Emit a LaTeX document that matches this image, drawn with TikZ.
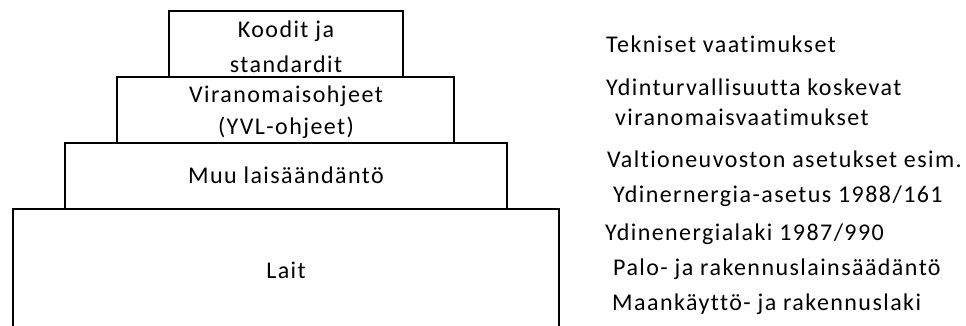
\documentclass[tikz,border=0pt]{standalone}
\usepackage{fontspec}
\setmainfont{Carlito}[LetterSpace=6,Ligatures={NoCommon}]
\begin{document}
\begin{tikzpicture}[x=1pt,y=-1pt,
  tier/.style={draw=black,line width=2.2pt},
  boxtext/.style={anchor=base,inner sep=0pt,font=\fontsize{24}{28}\selectfont},
  sidetext/.style={anchor=base west,inner sep=0pt,font=\fontsize{24}{28}\selectfont}]
\useasboundingbox (0,0) rectangle (966,326);
% tiers of the pyramid, widest at the bottom (its lower edge runs off the page)
\draw[tier] (13,340) |- (559,209) -- (559,340);
\draw[tier] (65,209) |- (507,143) -- (507,209);
\draw[tier] (117,143) |- (454,77) -- (454,143);
\draw[tier] (169,77) |- (403,11) -- (403,77);
% labels inside the tiers
\node[boxtext] (koodit1) at (286,38) {Koodit ja};
\node[boxtext] (koodit2) at (286,73) {standardit};
\node[boxtext] (viran1) at (286,103) {Viranomaisohjeet};
\node[boxtext] (viran2) at (286,135) {(YVL-ohjeet)};
\node[boxtext] (muu) at (286,183) {Muu laisäändäntö};
\node[boxtext] (lait) at (286,278) {Lait};
% descriptions on the right
\node[sidetext] (tek) at (606,53) {Tekniset vaatimukset};
\node[sidetext] (ydt1) at (606,96) {Ydinturvallisuutta koskevat};
\node[sidetext] (ydt2) at (615,125) {viranomaisvaatimukset};
\node[sidetext] (vn1) at (607,167) {Valtioneuvoston asetukset esim.};
\node[sidetext] (vn2) at (613,202) {Ydinernergia-asetus 1988/161};
\node[sidetext] (yel) at (605,240) {Ydinenergialaki 1987/990};
\node[sidetext] (palo) at (613,275) {Palo- ja rakennuslainsäädäntö};
\node[sidetext] (maa) at (612,310) {Maankäyttö- ja rakennuslaki};
\end{tikzpicture}
\end{document}
